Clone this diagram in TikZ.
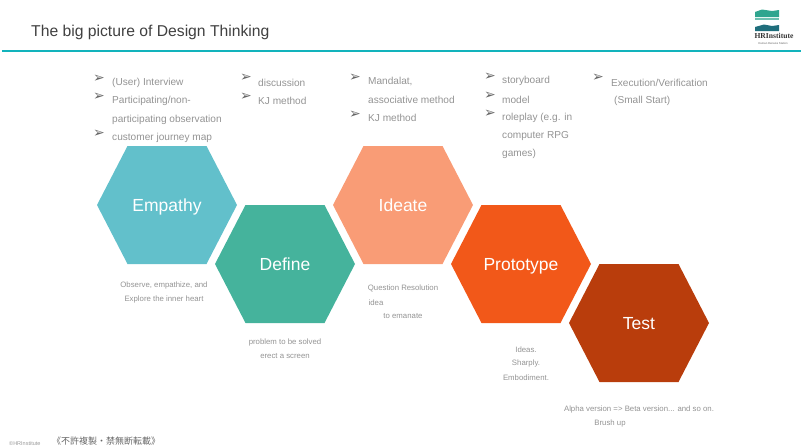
\documentclass[tikz,border=0pt]{standalone}
\usepackage{fontspec}
\setmainfont{Liberation Sans}
\newfontfamily\cjkfont{Noto Sans CJK JP}
\newfontfamily\symfont{DejaVu Sans}
\newfontfamily\logofont{Liberation Serif}
\definecolor{empc}{HTML}{62C0CB}
\definecolor{defc}{HTML}{45B39C}
\definecolor{ideac}{HTML}{F99C76}
\definecolor{protoc}{HTML}{F25819}
\definecolor{testc}{HTML}{B93D0C}
\definecolor{bar}{HTML}{12B3BC}
\definecolor{txt}{HTML}{939393}
\definecolor{logoa}{HTML}{2FA58F}
\definecolor{logob}{HTML}{1F6E7C}
\tikzset{
 hexlabel/.style={text=white,font=\fontsize{17.5}{20}\selectfont,inner sep=0pt,text height=12.5pt,text depth=0pt},
 item/.style={text=txt,font=\fontsize{10.1}{12}\selectfont,anchor=west,inner sep=0pt,yshift=-2.6pt},
 arrowmark/.style={text=black!60,font=\symfont\fontsize{14}{14}\selectfont,inner sep=0pt},
 caption/.style={text=txt,font=\fontsize{7.8}{10}\selectfont,inner sep=0pt,anchor=center,yshift=-1.4pt},
}
\newcommand{\hexa}[5]{%
 \fill[#4] (#2-70,#3) -- (#2-39.5,#3-59) -- (#2+39.5,#3-59) -- (#2+70,#3) -- (#2+39.5,#3+59) -- (#2-39.5,#3+59) -- cycle;
 \node[hexlabel] (#1) at (#2,#3) {#5};}
\newcommand{\bul}[3]{\node[arrowmark] (#1) at (#2,#3) {➢};}
\begin{document}
\begin{tikzpicture}[x=1pt,y=-1pt]
\useasboundingbox (0,0) rectangle (801,447);
\clip (0,0) rectangle (801,447);
\node[anchor=west,inner sep=0pt,text=black!75,font=\fontsize{15.7}{18}\selectfont] (title) at (31,32) {The big picture of Design Thinking};
\fill[bar] (2,50) rectangle (801,52);
% logo
\fill[logoa] (755,12) -- (762,9.5) -- (772,11) -- (779,10) -- (779,17) -- (755,17) -- cycle;
\fill[logoa!70!white] (755,17.5) rectangle (779,20);
\fill[logob] (755,31) -- (755,27) -- (764,24.5) -- (772,26) -- (779,25) -- (779,31) -- cycle;
\node[inner sep=0pt,font=\logofont\fontsize{7.6}{8}\bfseries\selectfont,text=black!80] (logotext) at (774,36) {HRInstitute};
\node[inner sep=0pt,font=\fontsize{2.8}{3}\selectfont,text=black!60] (logosub) at (773,43) {Human Renaiss Station};
% hexagons
\hexa{empathy}{167}{205}{empc}{Empathy}
\hexa{define}{285}{264}{defc}{Define}
\hexa{ideate}{403}{205}{ideac}{Ideate}
\hexa{prototype}{521}{264}{protoc}{Prototype}
\hexa{test}{639}{323}{testc}{Test}
% column 1
\bul{b1}{99}{79}\node[item] (t1) at (112,80) {(User) Interview};
\bul{b2}{99}{97}\node[item] (t2) at (112,98) {Participating/non-};
\node[item] (t3) at (112,117) {participating observation};
\bul{b3}{99}{134}\node[item] (t4) at (112,135) {customer journey map};
% column 2
\bul{b4}{246}{78}\node[item] (t5) at (258,80) {discussion};
\bul{b5}{246}{97}\node[item] (t6) at (258,98) {KJ method};
% column 3
\bul{b6}{355}{78}\node[item] (t7) at (368,79) {Mandalat,};
\node[item] (t8) at (368,97.5) {associative method};
\bul{b7}{355}{115}\node[item] (t9) at (368,115.5) {KJ method};
% column 4
\bul{b8}{490}{77}\node[item] (t10) at (502,78.5) {storyboard};
\bul{b9}{490}{96}\node[item] (t11) at (502,97) {model};
\bul{b10}{490}{114}\node[item] (t12) at (502,115) {roleplay (e.g. in};
\node[item] (t13) at (502,133) {computer RPG};
\node[item] (t14) at (502,151) {games)};
% column 5
\bul{b11}{598}{78}\node[item] (t15) at (611,80) {Execution/Verification};
\node[item] (t16) at (614,98) {(Small Start)};
% captions
\node[caption] (c1a) at (164,284) {Observe, empathize, and};
\node[caption] (c1b) at (164,298) {Explore the inner heart};
\node[caption] (c2a) at (285,341) {problem to be solved};
\node[caption] (c2b) at (285,355) {erect a screen};
\node[caption] (c3a) at (403,287) {Question Resolution};
\node[caption] (c3b) at (376,301) {idea};
\node[caption] (c3c) at (403,315) {to emanate};
\node[caption] (c4a) at (526,348) {Ideas.};
\node[caption] (c4b) at (526,362) {Sharply.};
\node[caption] (c4c) at (526,376) {Embodiment.};
\node[caption] (c5a) at (639,408) {Alpha version => Beta version... and so on.};
\node[caption] (c5b) at (610,422) {Brush up};
% footer
\node[anchor=west,inner sep=0pt,text=black!40,font=\fontsize{5.5}{6}\selectfont] (foot1) at (9,444) {©HRInstitute};
\node[anchor=west,inner sep=0pt,text=black!60,font=\cjkfont\fontsize{9}{10}\selectfont] (foot2) at (52,441.5) {《不許複製・禁無断転載》};
\end{tikzpicture}
\end{document}
